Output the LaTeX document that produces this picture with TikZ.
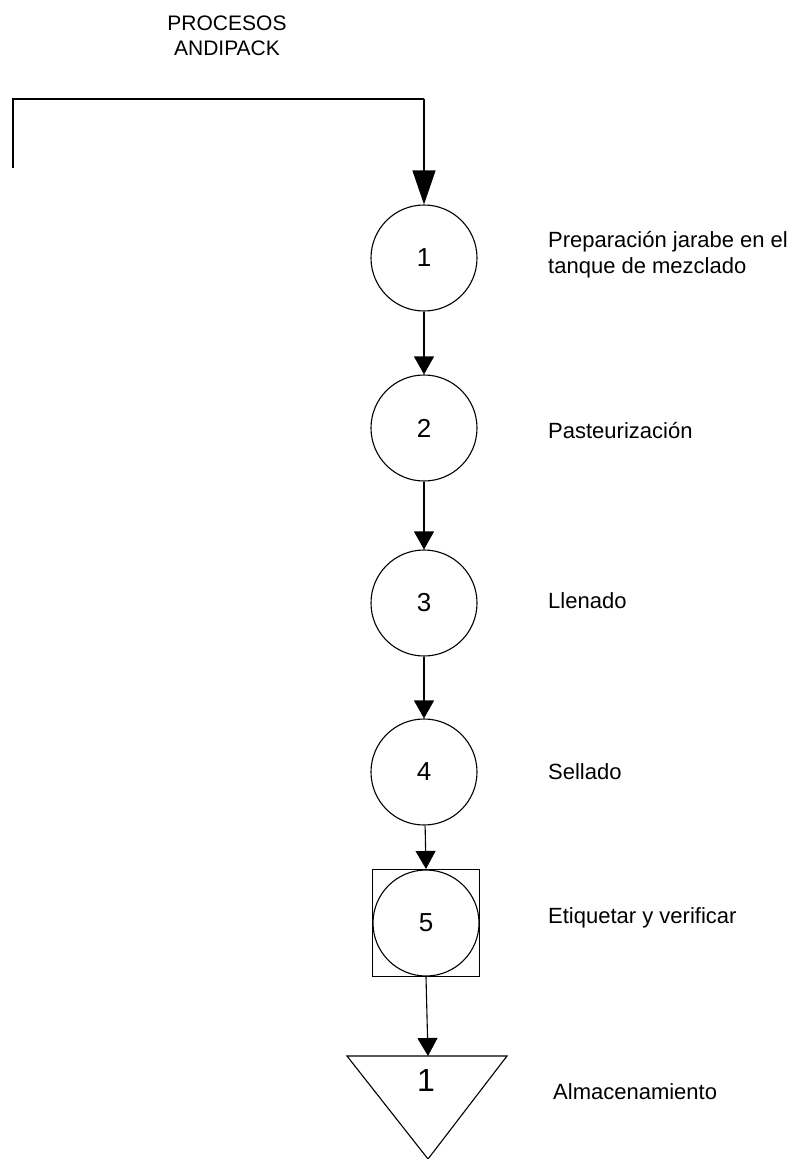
\documentclass[tikz,border=0pt]{standalone}
\usepackage{fontspec}
\setmainfont{Liberation Sans}
\usetikzlibrary{arrows.meta}
\tikzstyle{oper} = [circle, draw, line width=1.1pt, minimum size=106pt, inner sep=0, font=\fontsize{26}{30}\selectfont]
\tikzstyle{insp} = [rectangle, draw, line width=1.1pt, minimum size=107pt, inner sep=0]
\tikzstyle{desc} = [anchor=base west, align=left, inner sep=0, font=\fontsize{22}{26}\selectfont]
\tikzstyle{line} = [draw, line width=1.1pt, -{Triangle[length=18pt,width=20pt]}]
\tikzstyle{bigline} = [draw, line width=1.1pt, -{Triangle[length=34pt,width=23pt]}]

\begin{document}
\begin{tikzpicture}[x=1pt, y=-1pt]
\useasboundingbox (0,0) rectangle (798,1159);

\node [anchor=base, align=center, inner sep=0, font=\fontsize{21}{25}\selectfont] (title) at (227,55) {PROCESOS\\ANDIPACK};

\coordinate (izq) at (13,168);
\coordinate (esq1) at (13,99);
\coordinate (esq2) at (424,99);

\node [oper] (1) at (424,258) {1};
\node [oper] (2) at (424,428) {2};
\node [oper] (3) at (424,603) {3};
\node [oper] (4) at (424,772) {4};
\node [insp] (5b) at (426,923) {};
\node [oper] (5) at (426,923) {5};

% almacenamiento
\coordinate (alm) at (428,1056);
\draw [line width=1.1pt] (347,1056) -- (507,1056) -- (428,1159) -- cycle;
\node [inner sep=0, font=\fontsize{32}{36}\selectfont] (alm1) at (426,1080) {1};

\node [desc] (d1) at (548,273) {Preparación jarabe en el\\tanque de mezclado};
\node [desc] (d2) at (548,438) {Pasteurización};
\node [desc] (d3) at (548,608) {Llenado};
\node [desc] (d4) at (548,779) {Sellado};
\node [desc] (d5) at (548,923) {Etiquetar y verificar};
\node [desc] (d6) at (553,1099) {Almacenamiento};

\draw [line width=1.1pt] (izq) -- (esq1) -- (esq2);
\path [bigline] (esq2) -- (1);
\path [line] (1) -- (2);
\path [line] (2) -- (3);
\path [line] (3) -- (4);
\path [line] (4) -- (5b.north);
\path [line] (5b.south) -- (alm);

\end{tikzpicture}
\end{document}
